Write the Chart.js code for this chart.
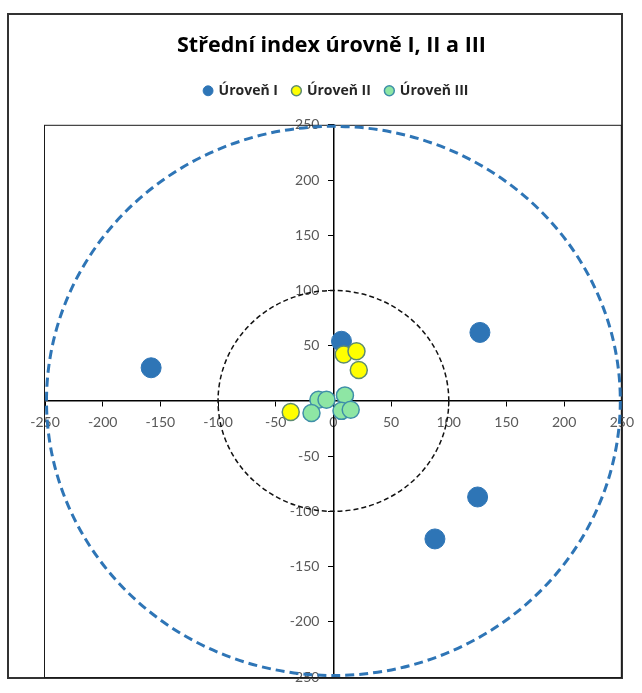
<!DOCTYPE html>
<html>
<head>
<meta charset="utf-8">
<script src="https://cdn.jsdelivr.net/npm/chart.js@4.4.0/dist/chart.umd.min.js"></script>
<style>
  html, body { margin: 0; padding: 0; background: #fff; }
  #wrap { position: relative; width: 642px; height: 693px; }
  #frame { position: absolute; left: 7px; top: 13px; width: 616px; height: 666px;
           box-sizing: border-box; border: 2px solid #333; }
  canvas { position: absolute; left: 0; top: 0; }
</style>
</head>
<body>
<div id="wrap">
  <div id="frame"></div>
  <canvas id="c" width="642" height="693"></canvas>
</div>
<script>
// Series names
const seriesNames = ['Úroveň I', 'Úroveň II', 'Úroveň III'];

// Úroveň I
const level1X = [-158, 127, 125, 88, 7];
const level1Y = [30, 62, -87, -125, 54];

// Úroveň II
const level2X = [9, 20, 22, -37];
const level2Y = [42, 45, 28, -10];

// Úroveň III
const level3X = [-13, -6, 10, -19, 7, 15];
const level3Y = [1, 1, 5, -11, -9, -8];

// Reference rings (radius in axis units)
const ringRadii = [100, 250];

// Axis tick values
const tickValues = [-250, -200, -150, -100, -50, 0, 50, 100, 150, 200, 250];

const toPoints = (xs, ys) => xs.map((x, i) => ({ x: x, y: ys[i] }));

const TICK_FONT = '14px Lato, "Open Sans", sans-serif';
const HEAD_FAMILY = '"Open Sans", Lato, sans-serif';

// Dashed rings, plot-area frame and the vertical axis labels, drawn under the points
const ringsPlugin = {
  id: 'rings',
  beforeInit(chart) {
    // extra room between the legend and the plot area
    const legend = chart.legend;
    if (legend) {
      const fit = legend.fit.bind(legend);
      legend.fit = function () { fit(); this.height += 17; };
    }
  },
  afterLayout(chart) {
    // centre the title over the whole frame rather than the plot area
    if (chart.titleBlock) {
      chart.titleBlock.left -= 5;
      chart.titleBlock.right -= 5;
    }
  },
  beforeDatasetsDraw(chart) {
    const { ctx, chartArea, scales } = chart;
    const cx = scales.x.getPixelForValue(0);
    const cy = scales.y.getPixelForValue(0);
    ctx.save();

    // y tick labels, right-aligned just left of the vertical axis
    ctx.font = TICK_FONT;
    ctx.fillStyle = '#595959';
    ctx.textAlign = 'right';
    ctx.textBaseline = 'middle';
    scales.y.ticks.forEach(t => {
      ctx.fillText(String(t.value), cx - 14, scales.y.getPixelForValue(t.value));
    });

    ctx.strokeStyle = '#1a1a1a';
    ctx.lineWidth = 1;
    ctx.strokeRect(chartArea.left - 0.5, chartArea.top + 0.5,
                   chartArea.right - chartArea.left, chartArea.bottom - chartArea.top);
    const styles = [
      { color: '#111111', width: 1.5, dash: [5, 3], inset: 0 },
      { color: '#2E75B6', width: 3, dash: [9, 5], inset: 1.5 }
    ];
    ringRadii.forEach((r, i) => {
      const s = styles[i];
      const rx = scales.x.getPixelForValue(r) - cx - s.inset;
      const ry = cy - scales.y.getPixelForValue(r) - s.inset;
      ctx.beginPath();
      ctx.setLineDash(s.dash);
      ctx.strokeStyle = s.color;
      ctx.lineWidth = s.width;
      ctx.ellipse(cx, cy, rx, ry, 0, 0, Math.PI * 2);
      ctx.stroke();
    });
    ctx.restore();
  }
};

const axisCommon = {
  type: 'linear',
  min: -250,
  max: 250,
  afterBuildTicks(scale) { scale.ticks = tickValues.map(v => ({ value: v })); },
  grid: { display: true, drawOnChartArea: false, drawTicks: true, tickLength: 5, color: '#000', lineWidth: 1 },
  border: { display: true, color: '#000', width: 1.5 },
  ticks: { color: '#595959', font: { family: 'Lato, "Open Sans", sans-serif', size: 14 }, autoSkip: false, maxRotation: 0 }
};

new Chart(document.getElementById('c'), {
  type: 'scatter',
  data: {
    datasets: [
      { label: seriesNames[0], data: toPoints(level1X, level1Y), order: 3,
        backgroundColor: '#2E75B6', borderColor: '#2E75B6', borderWidth: 1,
        pointRadius: 10, pointHoverRadius: 10, pointStyle: 'circle' },
      { label: seriesNames[1], data: toPoints(level2X, level2Y), order: 2,
        backgroundColor: '#FFFF00', borderColor: '#5E8C70', borderWidth: 1.5,
        pointRadius: 8.5, pointHoverRadius: 8.5, pointStyle: 'circle' },
      { label: seriesNames[2], data: toPoints(level3X, level3Y), order: 1,
        backgroundColor: '#8EE6A4', borderColor: '#3F8FA8', borderWidth: 1.5,
        pointRadius: 8.5, pointHoverRadius: 8.5, pointStyle: 'circle' }
    ]
  },
  options: {
    responsive: false,
    animation: false,
    devicePixelRatio: 1,
    layout: { padding: { left: 45, right: 14, top: 0, bottom: 16 } },
    plugins: {
      title: {
        display: true,
        text: 'Střední index úrovně I, II a III',
        color: '#000',
        font: { family: HEAD_FAMILY, size: 21.5, weight: 'bold' },
        padding: { top: 33, bottom: 10 }
      },
      legend: {
        display: true,
        position: 'top',
        labels: {
          usePointStyle: true,
          boxWidth: 7,
          boxHeight: 7,
          padding: 15,
          color: '#262626',
          font: { family: HEAD_FAMILY, size: 14, weight: 'bold' },
          sort: (a, b) => a.datasetIndex - b.datasetIndex
        }
      },
      tooltip: { enabled: false }
    },
    scales: {
      x: Object.assign({}, axisCommon, {
        position: { y: 0 },
        ticks: Object.assign({}, axisCommon.ticks, { padding: 8 })
      }),
      y: Object.assign({}, axisCommon, {
        position: { x: 0 },
        ticks: Object.assign({}, axisCommon.ticks, { display: false })
      })
    }
  },
  plugins: [ringsPlugin]
});
</script>
</body>
</html>
